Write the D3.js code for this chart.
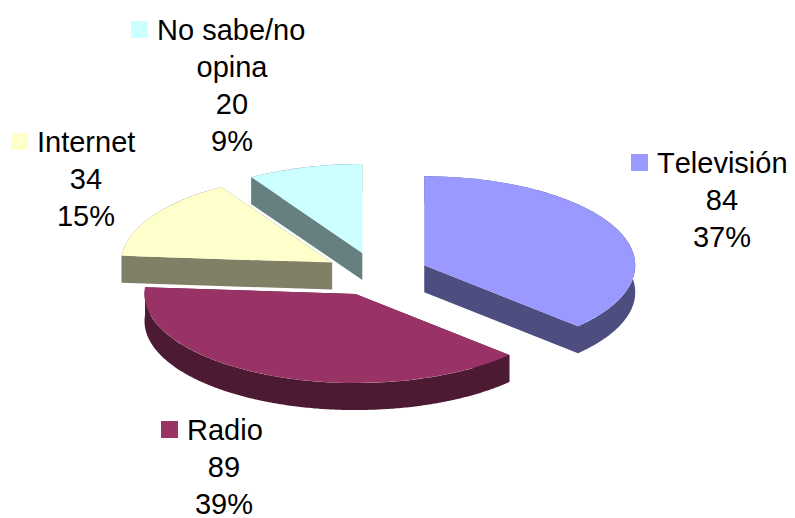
<!DOCTYPE html>
<html>

<head>
  <meta charset="utf-8">
  <script src="https://d3js.org/d3.v7.min.js"></script>
  <style>
    html, body {
      margin: 0;
      background: #fff;
    }

    .pie-label {
      fill: #000;
      font-family: "Liberation Sans", Arial, sans-serif;
      font-size: 29px;
      font-kerning: none;
    }
  </style>
</head>

<body>
  <div id="chart_div"></div>
  <script>
    var categories = ["Televisión", "Radio", "Internet", "No sabe/no opina"];
    var values = [84, 89, 34, 20];
    var percents = ["37%", "39%", "15%", "9%"];
    var labelLines = [["Televisión"], ["Radio"], ["Internet"], ["No sabe/no", "opina"]];
    var topColors = ["#9999ff", "#993366", "#ffffcc", "#ccffff"];
    var wallColors = ["#4d4d80", "#4d1a33", "#808066", "#668080"];

    var width = 795, height = 518;
    var rx = 211, ry = 89, depth = 27, explode = 52; // pie shape
    var cx = 376.5, cy = 274;

    // where each label sits: x of first line text, baseline of first line, x centre of the rest
    var labelStartX = [657, 187, 37, 157];
    var labelTopY = [173, 440, 152, 40];
    var labelCentreX = [722, 224, 86, 232];
    var lineStep = 37;

    var svg = d3.select("#chart_div").append("svg")
      .attr("width", width)
      .attr("height", height)
      .style("display", "block");

    var xScale = d3.scaleLinear().domain([-1, 1]).range([-rx, rx]);
    var yScale = d3.scaleLinear().domain([-1, 1]).range([-ry, ry]);

    var pie = d3.pie().sort(null).value(function (d) {return d;});
    var slices = pie(values);

    var arc = d3.arc().innerRadius(0).outerRadius(rx);

    function px(a) {return xScale(Math.sin(a));}
    function py(a) {return yScale(-Math.cos(a));}

    // one flat side wall between two rim angles and the apex, or along the rim
    var wallArea = d3.area()
      .x(function (d) {return d.x;})
      .y0(function (d) {return d.y;})
      .y1(function (d) {return d.y + depth;});

    function radialWall(a) {
      return wallArea([{x: 0, y: 0}, {x: px(a), y: py(a)}]);
    }

    function rimWall(s) {
      var steps = d3.range(s.startAngle, s.endAngle, 0.01).concat(s.endAngle);
      return wallArea(steps.map(function (a) {return {x: px(a), y: py(a)};}));
    }

    // back to front
    var drawOrder = [3, 2, 0, 1];

    drawOrder.forEach(function (i) {
      var s = slices[i];
      var mid = (s.startAngle + s.endAngle) / 2;
      var g = svg.append("g")
        .attr("transform", "translate(" + (cx + Math.sin(mid) * explode) + "," +
          (cy - Math.cos(mid) * explode * ry / rx) + ")");

      g.append("path").attr("d", radialWall(s.startAngle)).attr("fill", wallColors[i]);
      g.append("path").attr("d", radialWall(s.endAngle)).attr("fill", wallColors[i]);
      g.append("path").attr("d", rimWall(s)).attr("fill", wallColors[i]);
      g.append("path")
        .attr("d", arc(s))
        .attr("transform", "scale(1," + (ry / rx) + ")")
        .attr("fill", topColors[i]);
    });

    categories.forEach(function (name, i) {
      var y = labelTopY[i];
      var lines = labelLines[i];

      svg.append("rect")
        .attr("x", labelStartX[i] - 26)
        .attr("y", y - 19)
        .attr("width", 17)
        .attr("height", 17)
        .attr("fill", topColors[i]);

      svg.append("text")
        .attr("class", "pie-label")
        .attr("x", labelStartX[i])
        .attr("y", y)
        .text(lines[0]);

      lines.slice(1).concat([String(values[i]), percents[i]]).forEach(function (t, k) {
        svg.append("text")
          .attr("class", "pie-label")
          .attr("x", labelCentreX[i])
          .attr("y", y + (k + 1) * lineStep)
          .attr("text-anchor", "middle")
          .text(t);
      });
    });
  </script>
</body>

</html>
